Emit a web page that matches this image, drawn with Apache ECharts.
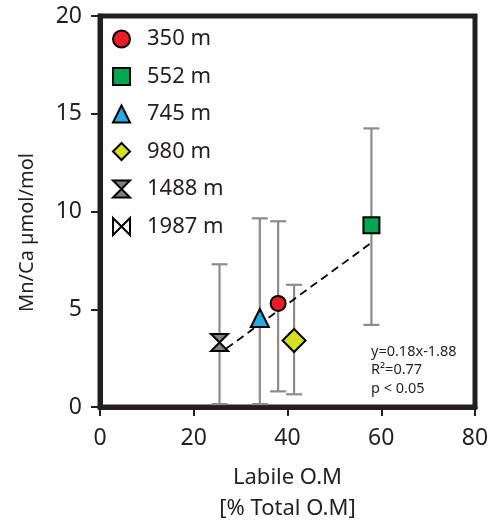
<!DOCTYPE html>
<html>
<head>
<meta charset="utf-8">
<script src="https://cdn.jsdelivr.net/npm/echarts@6/dist/echarts.min.js"></script>
<style>html,body{margin:0;padding:0;background:#fff}#c{width:493px;height:529px}</style>
</head>
<body>
<div id="c"></div>
<script>
// ---- data ----
const depths   = ['350 m', '552 m', '745 m', '980 m', '1488 m', '1987 m'];
const labileOM = [38.0, 57.9, 34.1, 41.4, 25.5, null];   // 1987 m: no visible point in the plot
const mnCa     = [5.3, 9.3, 4.55, 3.4, 3.3, null];
const errLow   = [0.8, 4.2, 0.15, 0.65, 0.15, null];
const errHigh  = [9.5, 14.25, 9.65, 6.25, 7.3, null];
const regX     = [27.0, 57.9];
const regY     = [3.0, 8.4];
const xTicks   = [0, 20, 40, 60, 80];
const yTicks   = [0, 5, 10, 15, 20];
const statsText = ['y=0.18x-1.88', 'R²=0.77', 'p < 0.05'];

const INK = '#231f20';
const FONT = 'Noto Sans';
const colors = ['#ed1c24', '#00a651', '#27aae1', '#d7df23', '#808080', '#ffffff'];
const symbols = [
  'circle', 'rect', 'triangle', 'diamond',
  'path://M0,0 L10,0 L5,5 L10,10 L0,10 L5,5 Z',
  'path://M0,0 L5,5 L0,10 Z M10,0 L5,5 L10,10 Z'
];
const sizes = [15, 16, 18, 23, 17, 17];

const chart = echarts.init(document.getElementById('c'), null, {renderer: 'canvas'});

const errData = depths.map((d, i) => [labileOM[i], errLow[i], errHigh[i]]).filter(r => r[0] != null);

const series = [{
  type: 'custom',
  name: 'err',
  z: 1,
  silent: true,
  data: errData,
  renderItem: function (params, api) {
    const x = api.value(0);
    const lo = api.coord([x, api.value(1)]);
    const hi = api.coord([x, api.value(2)]);
    const hw = 8;
    const st = {stroke: '#8c8c8c', lineWidth: 2.2};
    return {
      type: 'group',
      children: [
        {type: 'line', shape: {x1: lo[0], y1: lo[1], x2: hi[0], y2: hi[1]}, style: st},
        {type: 'line', shape: {x1: lo[0] - hw, y1: lo[1], x2: lo[0] + hw, y2: lo[1]}, style: st},
        {type: 'line', shape: {x1: hi[0] - hw, y1: hi[1], x2: hi[0] + hw, y2: hi[1]}, style: st}
      ]
    };
  }
}, {
  type: 'line',
  name: 'reg',
  z: 2,
  silent: true,
  symbol: 'none',
  data: regX.map((x, i) => [x, regY[i]]),
  lineStyle: {color: '#000', width: 1.8, type: [8, 5]}
}];

depths.forEach((d, i) => {
  series.push({
    type: 'scatter',
    name: d,
    z: 3,
    symbol: symbols[i],
    symbolSize: sizes[i],
    data: labileOM[i] == null ? [] : [[labileOM[i], mnCa[i]]],
    itemStyle: {color: colors[i], borderColor: '#000', borderWidth: 2, opacity: 1}
  });
});

chart.setOption({
  animation: false,
  textStyle: {fontFamily: FONT, color: INK},
  grid: {left: 100, right: 18, top: 16, bottom: 122, outerBoundsMode: 'none', containLabel: false,
         show: true, borderColor: INK, borderWidth: 5, backgroundColor: 'transparent'},
  legend: {
    data: depths.map((d, i) => ({name: d, icon: symbols[i]})),
    orient: 'vertical',
    left: 112,
    top: 26,
    padding: 0,
    itemWidth: 17,
    itemHeight: 17,
    itemGap: 11.5,
    selectedMode: false,
    itemStyle: {borderColor: '#000', borderWidth: 2},
    textStyle: {fontFamily: FONT, fontSize: 22, color: INK, padding: [0, 0, 0, 12], lineHeight: 26}
  },
  xAxis: {
    type: 'value',
    min: xTicks[0], max: xTicks[xTicks.length - 1], interval: 20,
    name: 'Labile O.M\n[% Total O.M]',
    nameLocation: 'middle',
    nameGap: 55,
    nameTextStyle: {fontFamily: FONT, fontSize: 22, color: INK, lineHeight: 31},
    axisLine: {show: true, lineStyle: {color: INK, width: 5}},
    axisTick: {show: true, length: 9, lineStyle: {color: INK, width: 2}},
    axisLabel: {fontFamily: FONT, fontSize: 23, color: INK, margin: 20},
    splitLine: {show: false}
  },
  yAxis: {
    type: 'value',
    min: yTicks[0], max: yTicks[yTicks.length - 1], interval: 5,
    name: 'Mn/Ca µmol/mol',
    nameLocation: 'middle',
    nameGap: 63,
    nameTextStyle: {fontFamily: FONT, fontSize: 20, color: INK, padding: [0, 42, 0, 0]},
    axisLine: {show: true, lineStyle: {color: INK, width: 5}},
    axisTick: {show: true, length: 9, lineStyle: {color: INK, width: 2}},
    axisLabel: {fontFamily: FONT, fontSize: 23, color: INK, margin: 18},
    splitLine: {show: false}
  },
  graphic: statsText.map((t, i) => ({
    type: 'text',
    left: 371,
    top: 344 + i * 18.5,
    style: {text: t, fontFamily: FONT, fontSize: 14.5, fill: INK}
  })),
  series: series
});
</script>
</body>
</html>
